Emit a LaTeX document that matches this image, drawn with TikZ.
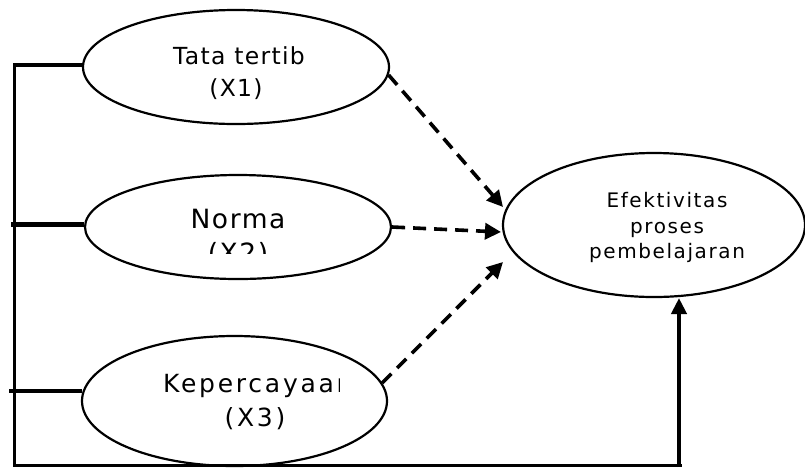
\documentclass[tikz,border=0pt]{standalone}
\usepackage{fontspec}
\setmainfont{DejaVu Sans}
\usetikzlibrary{shapes.geometric,arrows.meta}
\begin{document}
\begin{tikzpicture}[x=1pt,y=-1pt,
  ell/.style={draw, ellipse, line width=2.2pt, inner sep=0pt},
  conn/.style={line width=3.8pt},
  thickconn/.style={line width=4.6pt},
  baseline/.style={line width=3pt},
  dasharrow/.style={line width=3.6pt, dash pattern=on 13pt off 8pt, -{Triangle[length=16pt,width=16pt]}},
  solidarrow/.style={line width=4.4pt, -{Triangle[length=16pt,width=15pt]}},
  lab/.style={anchor=base, inner sep=0pt},
  fa/.style={font=\fontsize{23.5}{27}\selectfont\addfontfeatures{LetterSpace=5.5}},
  fb/.style={font=\fontsize{26.5}{30}\selectfont\addfontfeatures{LetterSpace=6}},
  fc/.style={font=\fontsize{25}{29}\selectfont\addfontfeatures{LetterSpace=11}},
  fd/.style={font=\fontsize{20}{23}\selectfont\addfontfeatures{LetterSpace=8}}]
\useasboundingbox (0,0) rectangle (805,467);
\fill[white] (0,0) rectangle (805,467);
% ellipses
\node[ell, minimum width=306pt, minimum height=114pt] (x1) at (236,67) {};
\node[ell, minimum width=306pt, minimum height=104pt] (x2) at (238,227) {};
\node[ell, minimum width=305pt, minimum height=130pt] (x3) at (234.5,401) {};
\node[ell, minimum width=302pt, minimum height=144pt] (y) at (654,225) {};
% texts
\node[lab, fa] (t1a) at (239,64) {Tata tertib};
\node[lab, fa] (t1b) at (236,96) {(X1)};
\node[lab, fb] (t2a) at (238,228) {Norma};
\begin{scope}
  \clip (150,200) rectangle (330,253);
  \node[lab, fb] (t2b) at (238,262) {(X2)};
\end{scope}
\begin{scope}
  \clip (150,360) rectangle (339,400);
  \node[lab, fc, anchor=base west] (t3a) at (163,392) {Kepercayaan};
\end{scope}
\node[lab, fc] (t3b) at (255,426) {(X3)};
\node[lab, fd] (t4a) at (667,207) {Efektivitas};
\node[lab, fd] (t4b) at (667,233) {proses};
\node[lab, fd] (t4c) at (667,258) {pembelajaran};
% coordinates
\coordinate (cTL) at (14.5,65);
\coordinate (cBL) at (14.5,467);
\coordinate (c2L) at (11,224.5);
\coordinate (c3L) at (9,391);
\coordinate (cB0) at (14.5,465.5);
\coordinate (cB1) at (682,465.5);
\coordinate (cV) at (679,467);
\coordinate (tipV) at (679,298);
\coordinate (tip1) at (503,207);
\coordinate (tip2) at (501,232);
\coordinate (tip3) at (503,262);
% solid connectors
\draw[conn, line join=miter] (x1.west |- cTL) -- (cTL) -- (cBL);
\draw[thickconn] (c2L) -- (c2L -| x2.west);
\draw[conn] (c3L) -- ([xshift=1pt]c3L -| x3.west);
\draw[baseline] (cB0) -- (cB1);
\draw[solidarrow] (cV) -- (tipV);
% dashed arrows
\draw[dasharrow] (x1.-3) -- (tip1);
\draw[dasharrow] (x2.east) -- (tip2);
\draw[dasharrow] (x3.7) -- (tip3);
\end{tikzpicture}
\end{document}
